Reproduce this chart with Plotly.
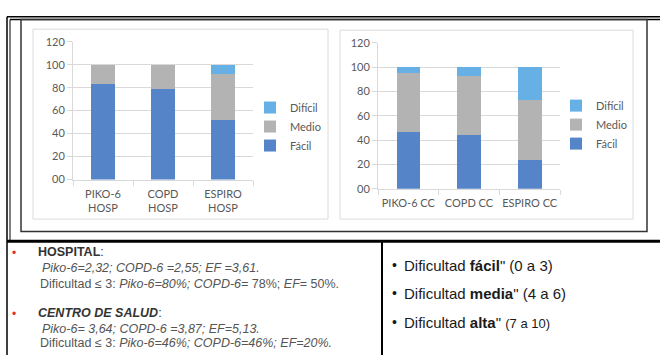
import plotly.graph_objects as go

# ---- data -------------------------------------------------------------
categories_hosp = ["PIKO-6<br>HOSP", "COPD<br>HOSP", "ESPIRO<br>HOSP"]
facil_hosp = [83, 79, 52]
medio_hosp = [17, 21, 40]
dificil_hosp = [0, 0, 8]

categories_cc = ["PIKO-6 CC", "COPD CC", "ESPIRO CC"]
facil_cc = [47, 44, 24]
medio_cc = [48, 49, 49]
dificil_cc = [5, 7, 27]

y_tickvals = [0, 20, 40, 60, 80, 100, 120]
y_ticktext = ["00", "20", "40", "60", "80", "100", "120"]

series_names = ["Fácil", "Medio", "Difícil"]
series_colors = ["#5585C8", "#B3B3B3", "#66B0E6"]

W, H = 660, 361


def px(x):
    return x / W


def py(y):
    return 1 - y / H


fig = go.Figure()

hosp_values = [facil_hosp, medio_hosp, dificil_hosp]
cc_values = [facil_cc, medio_cc, dificil_cc]

for name, color, vals in zip(series_names, series_colors, hosp_values):
    fig.add_trace(go.Bar(x=categories_hosp, y=vals, name=name,
                         marker=dict(color=color, line=dict(width=0)),
                         xaxis="x", yaxis="y", legend="legend",
                         legendgroup="h" + name))
for name, color, vals in zip(series_names, series_colors, cc_values):
    fig.add_trace(go.Bar(x=categories_cc, y=vals, name=name,
                         marker=dict(color=color, line=dict(width=0)),
                         xaxis="x2", yaxis="y2", legend="legend2",
                         legendgroup="c" + name))

axis_font = dict(family="Lato, Open Sans, sans-serif", size=11, color="#595959")
grid = "#D9D9D9"

common_x = dict(type="category", showline=True, linecolor=grid, linewidth=1,
                ticks="outside", tickson="boundaries", ticklen=5, tickcolor=grid,
                tickfont=axis_font, tickangle=0, ticklabelstandoff=4,
                showgrid=False, zeroline=False, fixedrange=True)
common_y = dict(range=[0, 120], tickvals=y_tickvals, ticktext=y_ticktext,
                showgrid=True, gridcolor=grid, gridwidth=1, showline=True,
                linecolor=grid, ticks="outside", ticklen=5, tickcolor=grid,
                tickfont=axis_font, zeroline=False, fixedrange=True)

legend_common = dict(font=axis_font, traceorder="reversed", tracegroupgap=7,
                     bgcolor="rgba(0,0,0,0)", xanchor="left", yanchor="middle",
                     itemwidth=30)

fig.update_layout(
    width=W, height=H,
    margin=dict(l=0, r=0, t=0, b=0),
    paper_bgcolor="white", plot_bgcolor="white",
    barmode="stack", bargap=0.61,
    xaxis=dict(domain=[px(73), px(253)], anchor="y", **common_x),
    yaxis=dict(domain=[py(179), py(36)], anchor="x", **common_y),
    xaxis2=dict(domain=[px(378), px(560)], anchor="y2", **common_x),
    yaxis2=dict(domain=[py(188.5), py(37.3)], anchor="x2", **common_y),
    legend=dict(x=px(250), y=py(124), **legend_common),
    legend2=dict(x=px(556), y=py(122), **legend_common),
    showlegend=True,
)

# ---- frames -----------------------------------------------------------
shapes = []


def line(x0, y0, x1, y1, color="black", width=1):
    shapes.append(dict(type="line", xref="paper", yref="paper",
                       x0=px(x0), y0=py(y0), x1=px(x1), y1=py(y1),
                       line=dict(color=color, width=width)))


def rect(x0, y0, x1, y1, color="black", width=1):
    shapes.append(dict(type="rect", xref="paper", yref="paper",
                       x0=px(x0), y0=py(y0), x1=px(x1), y1=py(y1),
                       line=dict(color=color, width=width)))


# chart-area borders
rect(33, 23, 328, 220, color="#DADADA", width=1)
rect(340, 24, 633, 220, color="#DADADA", width=1)
# double outer frame around the charts
line(7, 10, 660, 10, width=1.5)
line(10, 13, 660, 13, width=1.5)
line(7, 10, 7, 361, width=1.5)
line(10, 13, 10, 243, width=1)
rect(21, 13, 647, 233, color="#333333", width=1.5)
# separator and bottom panels
line(7, 243, 660, 243, width=3)
line(382, 243, 382, 361, width=2)

fig.update_layout(shapes=shapes)

# ---- text notes -------------------------------------------------------
notes = []
SANS = "Liberation Sans, Arial, sans-serif"


def note(x, y, text, size=12.5, color="#555555", family=SANS):
    notes.append(dict(xref="paper", yref="paper", x=px(x), y=py(y),
                      xanchor="left", yanchor="middle", showarrow=False,
                      text=text, font=dict(family=family, size=size, color=color)))


note(10, 255, "•", size=12, color="#E03030")
note(10, 318, "•", size=12, color="#E03030")
note(36, 254, "<b>HOSPITAL</b>:", color="#333333")
note(40, 271, "<i>Piko-6=2,32; COPD-6 =2,55; EF =3,61.</i>")
note(38, 287, "Dificultad ≤ 3: <i>Piko-6=80%; COPD-6=</i> 78%; <i>EF</i>= 50%.")
note(36, 317, "<b><i>CENTRO DE SALUD</i></b>:", color="#333333")
note(40, 334, "<i>Piko-6= 3,64; COPD-6 =3,87; EF=5,13.</i>")
note(38, 349, "Dificultad ≤ 3: <i>Piko-6=46%; COPD-6=46%; EF=20%.</i>")

for yy in (268, 297, 327):
    note(390, yy, "•", size=14, color="#1A1A1A")
note(402, 268, "Dificultad <b>fácil</b>\" (0 a 3)", size=15, color="#1A1A1A")
note(402, 297, "Dificultad <b>media</b>\" (4 a 6)", size=15, color="#1A1A1A")
note(402, 327, "Dificultad <b>alta</b>\" <span style='font-size:13px'>(7 a 10)</span>",
     size=15, color="#1A1A1A")

fig.update_layout(annotations=notes)

fig.write_html("out.html")
